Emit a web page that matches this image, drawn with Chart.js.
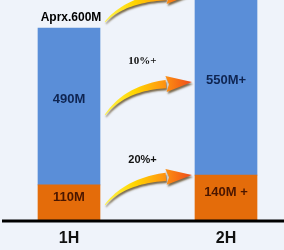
<!DOCTYPE html>
<html>
<head>
<meta charset="utf-8">
<script src="https://cdn.jsdelivr.net/npm/chart.js@4/dist/chart.umd.min.js"></script>
<style>
    body { margin: 0; background: #eff3fa; }
    #wrap { width: 284px; height: 250px; position: relative; }
</style>
</head>
<body>
<div id="wrap"><canvas id="chart"></canvas></div>
<script>
// Half-year split, stacked (millions)
const halves = ['1H', '2H'];
const orangePart = [110, 140];
const bluePart = [490, 550];
const orangeText = ['110M', '140M +'];
const blueText = ['490M', '550M+'];
const totalText = ['Aprx.600M', ''];
const growthText = ['10%+', '20%+'];

// draws one curved yellow->orange growth arrow
function drawArrow(ctx, sx, sy, tx, ty) {
    const bx = tx - 26, by = ty + 2;
    const cx = sx + 20, cy = by + 4;
    const upper = [], lower = [];
    for (let i = 0; i <= 24; i++) {
        const t = i / 24;
        const x = (1 - t) * (1 - t) * sx + 2 * (1 - t) * t * cx + t * t * bx;
        const y = (1 - t) * (1 - t) * sy + 2 * (1 - t) * t * cy + t * t * by;
        const dx = 2 * (1 - t) * (cx - sx) + 2 * t * (bx - cx);
        const dy = 2 * (1 - t) * (cy - sy) + 2 * t * (by - cy);
        const len = Math.hypot(dx, dy);
        const hw = 0.4 + 3.8 * t;
        upper.push([x - dy / len * hw, y + dx / len * hw]);
        lower.push([x + dy / len * hw, y - dx / len * hw]);
    }
    const grad = ctx.createLinearGradient(sx, 0, tx, 0);
    grad.addColorStop(0, '#fff34a');
    grad.addColorStop(0.35, '#ffd400');
    grad.addColorStop(0.65, '#ff9a10');
    grad.addColorStop(1, '#ee4a1a');

    ctx.save();
    ctx.shadowColor = 'rgba(70,45,0,0.7)';
    ctx.shadowOffsetX = 1;
    ctx.shadowOffsetY = 2;
    ctx.shadowBlur = 2;
    ctx.fillStyle = grad;
    ctx.beginPath();
    upper.forEach((p, i) => i ? ctx.lineTo(p[0], p[1]) : ctx.moveTo(p[0], p[1]));
    for (let i = lower.length - 1; i >= 0; i--) ctx.lineTo(lower[i][0], lower[i][1]);
    ctx.closePath();
    ctx.fill();

    // head
    const hx = tx - bx, hy = ty - by;
    const hl = Math.hypot(hx, hy);
    const px = -hy / hl * 8, py = hx / hl * 8;
    ctx.beginPath();
    ctx.moveTo(bx + px, by + py);
    ctx.lineTo(tx, ty);
    ctx.lineTo(bx - px, by - py);
    ctx.lineTo(bx + 3, by);
    ctx.closePath();
    ctx.fill();
    ctx.restore();
}

const decorPlugin = {
    id: 'decor',
    afterDatasetsDraw(chart, args, opts) {
        const ctx = chart.ctx;
        const y = chart.scales.y;
        const orange = chart.getDatasetMeta(0).data;
        const blue = chart.getDatasetMeta(1).data;
        const b1 = blue[0], b2 = blue[1];
        const gapL = b1.x + b1.width / 2, gapR = b2.x - b2.width / 2;

        ctx.save();
        ctx.textAlign = 'center';
        ctx.textBaseline = 'middle';

        // segment labels
        ctx.font = 'bold 13px "Liberation Sans", Arial, sans-serif';
        ctx.fillStyle = '#0f2552';
        blue.forEach((el, i) => ctx.fillText(blueText[i], el.x, (el.y + el.base) / 2 - 7));
        ctx.fillStyle = '#4a1600';
        orange.forEach((el, i) => ctx.fillText(orangeText[i], el.x, (el.y + el.base) / 2 - 5));

        ctx.font = 'bold 12px "Liberation Sans", Arial, sans-serif';
        ctx.fillStyle = '#000000';
        blue.forEach((el, i) => ctx.fillText(totalText[i], el.x + 2, el.y - 10));

        // arrows
        opts.arrows.forEach(a => {
            drawArrow(ctx, gapL + 5, y.getPixelForValue(a.from), gapR - 3, y.getPixelForValue(a.to));
        });

        // growth labels
        ctx.fillStyle = '#111111';
        opts.labels.forEach((l, i) => {
            ctx.font = l.font;
            ctx.fillText(growthText[i], (gapL + gapR) / 2 - 5, y.getPixelForValue(l.at));
        });

        // base line
        const y0 = y.getPixelForValue(0) + 1;
        ctx.strokeStyle = '#000000';
        ctx.lineWidth = 3;
        ctx.beginPath();
        ctx.moveTo(2, y0);
        ctx.lineTo(chart.width, y0);
        ctx.stroke();
        ctx.restore();
    }
};

new Chart(document.getElementById('chart'), {
    type: 'bar',
    data: {
        labels: halves,
        datasets: [
            { data: orangePart, backgroundColor: '#e46c0a', barThickness: 62, clip: false },
            { data: bluePart, backgroundColor: '#5a8ed8', barThickness: 62, clip: false }
        ]
    },
    options: {
        responsive: true,
        maintainAspectRatio: false,
        animation: false,
        layout: { padding: { left: 69, right: 58, top: 0, bottom: 0 } },
        plugins: {
            legend: { display: false },
            tooltip: { enabled: false },
            decor: {
                arrows: [
                    { from: 619, to: 706 },
                    { from: 328, to: 431 },
                    { from: 47, to: 141 }
                ],
                labels: [
                    { at: 497, font: 'bold 11px "Liberation Serif", serif' },
                    { at: 187, font: 'bold 11px "Liberation Sans", Arial, sans-serif' }
                ]
            }
        },
        scales: {
            x: {
                stacked: true,
                offset: false,
                grid: { display: false },
                border: { display: false },
                ticks: {
                    color: '#111111',
                    padding: 1,
                    font: { family: '"Liberation Sans", Arial, sans-serif', size: 16, weight: 'bold' }
                },
                afterFit: axis => { axis.height = 30; }
            },
            y: {
                stacked: true,
                display: false,
                min: 0,
                max: 687.5
            }
        }
    },
    plugins: [decorPlugin]
});
</script>
</body>
</html>
